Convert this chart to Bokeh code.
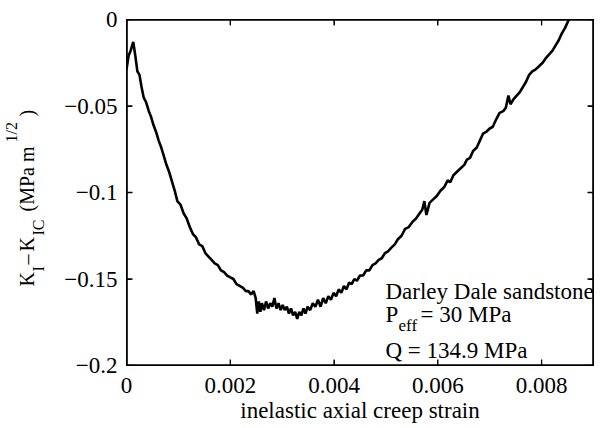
import math
from bokeh.plotting import figure
from bokeh.models import Range1d, LinearAxis, FixedTicker
from bokeh.layouts import row
from bokeh.core.properties import value
from bokeh.embed import file_html
from bokeh.resources import INLINE

# ---- data ----
strain = [
    0.00000, 0.00004, 0.00008, 0.00013, 0.00017, 0.00021, 0.00025, 0.00029, 0.00033, 0.00038,
    0.00043, 0.00047, 0.00052, 0.00057, 0.00062, 0.00067, 0.00072, 0.00077, 0.00082, 0.00088,
    0.00093, 0.00098, 0.00104, 0.00110, 0.00116, 0.00122, 0.00128, 0.00134, 0.00140, 0.00146,
    0.00152, 0.00158, 0.00164, 0.00170, 0.00176, 0.00182, 0.00188, 0.00194, 0.00200, 0.00206,
    0.00212, 0.00218, 0.00224, 0.00230, 0.00235, 0.00240, 0.00245, 0.00249, 0.00252, 0.00255,
    0.00258, 0.00261, 0.00265, 0.00269, 0.00273, 0.00277, 0.00281, 0.00285, 0.00289, 0.00293,
    0.00297, 0.00301, 0.00305, 0.00309, 0.00313, 0.00317, 0.00321, 0.00325, 0.00329, 0.00333,
    0.00337, 0.00341, 0.00345, 0.00349, 0.00354, 0.00359, 0.00364, 0.00369, 0.00374, 0.00379,
    0.00384, 0.00389, 0.00394, 0.00399, 0.00404, 0.00409, 0.00414, 0.00419, 0.00424, 0.00429,
    0.00434, 0.00439, 0.00444, 0.00450, 0.00456, 0.00462, 0.00468, 0.00474, 0.00480, 0.00486,
    0.00492, 0.00498, 0.00504, 0.00510, 0.00517, 0.00523, 0.00530, 0.00537, 0.00544, 0.00551,
    0.00558, 0.00565, 0.00570, 0.00574, 0.00578, 0.00584, 0.00591, 0.00598, 0.00605, 0.00612,
    0.00619, 0.00624, 0.00630, 0.00637, 0.00644, 0.00651, 0.00656, 0.00662, 0.00668, 0.00675,
    0.00681, 0.00687, 0.00693, 0.00700, 0.00706, 0.00712, 0.00719, 0.00726, 0.00731, 0.00736,
    0.00740, 0.00746, 0.00752, 0.00758, 0.00764, 0.00770, 0.00776, 0.00782, 0.00788, 0.00795,
    0.00802, 0.00809, 0.00815, 0.00821, 0.00827, 0.00833, 0.00839, 0.00845, 0.00851, 0.00857,
]
k_diff = [
    -0.029, -0.021, -0.018, -0.013, -0.021, -0.030, -0.032, -0.039, -0.045, -0.048,
    -0.053, -0.056, -0.061, -0.065, -0.070, -0.074, -0.079, -0.084, -0.088, -0.094,
    -0.099, -0.105, -0.107, -0.112, -0.115, -0.120, -0.124, -0.126, -0.130, -0.131,
    -0.135, -0.137, -0.139, -0.141, -0.142, -0.145, -0.146, -0.148, -0.149, -0.150,
    -0.153, -0.154, -0.155, -0.157, -0.157, -0.159, -0.157, -0.161, -0.170, -0.163,
    -0.169, -0.164, -0.168, -0.163, -0.167, -0.164, -0.166, -0.161, -0.167, -0.164,
    -0.168, -0.165, -0.168, -0.166, -0.170, -0.167, -0.171, -0.169, -0.173, -0.169,
    -0.171, -0.167, -0.170, -0.166, -0.168, -0.164, -0.166, -0.162, -0.166, -0.161,
    -0.164, -0.160, -0.162, -0.158, -0.160, -0.156, -0.158, -0.154, -0.156, -0.152,
    -0.153, -0.150, -0.151, -0.148, -0.148, -0.145, -0.145, -0.142, -0.141, -0.139,
    -0.138, -0.135, -0.134, -0.132, -0.130, -0.127, -0.125, -0.121, -0.120, -0.117,
    -0.115, -0.112, -0.110, -0.105, -0.113, -0.106, -0.104, -0.102, -0.099, -0.097,
    -0.093, -0.094, -0.090, -0.088, -0.086, -0.084, -0.081, -0.080, -0.076, -0.074,
    -0.070, -0.066, -0.065, -0.063, -0.062, -0.058, -0.054, -0.053, -0.051, -0.044,
    -0.049, -0.046, -0.044, -0.042, -0.039, -0.036, -0.032, -0.030, -0.029, -0.027,
    -0.025, -0.022, -0.020, -0.018, -0.015, -0.012, -0.008, -0.005, -0.001, 0.003,
]

x_ticks = [0, 0.002, 0.004, 0.006, 0.008]
x_tick_labels = ["0", "0.002", "0.004", "0.006", "0.008"]
y_ticks = [-0.2, -0.15, -0.1, -0.05, 0]
y_tick_labels = ["\u22120.2", "\u22120.15", "\u22120.1", "\u22120.05", "0"]

x_title = "inelastic axial creep strain"
y_title_parts = ["K", "I", "\u2013", "K", "IC", "(MPa m", "1/2", ")"]
note_parts = ["Darley Dale sandstone", "P", "eff", " = 30 MPa", "Q = 134.9 MPa"]

FONT = "Liberation Serif"
W, H = 601, 428
SIDE = 60                      # width of the strip that carries the y title
L, R, T, B = 126, 8, 19, 63    # frame margins in the whole picture
XMIN, XMAX, YMIN, YMAX = 0.0, 0.009, -0.2, 0.0
FW, FH = W - L - R, H - T - B  # frame size in px
BASE_FIX = 8                   # baseline correction (px)
TICK = 6                       # tick length (px)
NAN = float("nan")

# ---------------- main plot ----------------
p = figure(width=W - SIDE, height=H, output_backend="svg", toolbar_location=None,
           x_range=Range1d(XMIN, XMAX), y_range=Range1d(YMIN, YMAX),
           min_border_left=L - SIDE, min_border_right=R, min_border_top=T, min_border_bottom=B)
p.background_fill_color = "white"
p.border_fill_color = "white"
p.outline_line_color = "black"
p.xgrid.visible = False
p.ygrid.visible = False

p.line(strain, k_diff, line_color="black", line_width=2.6)

# frame box (closed polyline) and inward ticks on all four sides, drawn as guide lines
p.line([XMIN, XMAX, XMAX, XMIN, XMIN], [YMIN, YMIN, YMAX, YMAX, YMIN],
       line_color="black", line_width=2.6)
tx = TICK / FH * (YMAX - YMIN)
ty = TICK / FW * (XMAX - XMIN)
tick_xs, tick_ys = [], []
for t in x_ticks:
    tick_xs += [t, t, NAN, t, t, NAN]
    tick_ys += [YMIN, YMIN + tx, NAN, YMAX, YMAX - tx, NAN]
for t in y_ticks:
    tick_xs += [XMIN, XMIN + ty, NAN, XMAX, XMAX - ty, NAN]
    tick_ys += [t, t, NAN, t, t, NAN]
p.line(tick_xs, tick_ys, line_color="black", line_width=1.3)


def style_axis(ax, ticks, labels, show_labels=True, standoff=9):
    ax.ticker = FixedTicker(ticks=ticks)
    ax.major_label_overrides = {t: (s if show_labels else "") for t, s in zip(ticks, labels)}
    ax.major_tick_in = 5
    ax.major_tick_out = 0
    ax.minor_tick_line_color = None
    ax.axis_line_color = "black"
    ax.major_tick_line_color = "black"
    ax.major_label_text_font = FONT
    ax.major_label_text_color = "black"
    ax.major_label_text_font_size = "23px"
    ax.major_label_standoff = standoff if show_labels else 0


xa = p.xaxis[0]
style_axis(xa, x_ticks, x_tick_labels, True, 12)
xa.axis_label = x_title
xa.axis_label_text_font = FONT
xa.axis_label_text_font_size = "23px"
xa.axis_label_text_font_style = "normal"
xa.axis_label_text_color = "black"
xa.axis_label_standoff = 2

ya = p.yaxis[0]
style_axis(ya, y_ticks, y_tick_labels, True, 9)

top = LinearAxis()
style_axis(top, x_ticks, x_tick_labels, False)
p.add_layout(top, "above")
right = LinearAxis()
style_axis(right, y_ticks, y_tick_labels, False)
p.add_layout(right, "right")


# picture pixel -> data coordinates (for text positions only)
def dx(px):
    return XMIN + (px - L) / FW * (XMAX - XMIN)


def dy(py):
    return YMAX - (py - T) / FH * (YMAX - YMIN)


def note(px, py, text, size):
    p.text(x=[dx(px)], y=[dy(py - BASE_FIX)], text=[text], text_font=value(FONT),
           text_font_size=value(size), text_color="black",
           text_align="left", text_baseline="alphabetic")


note(385, 299, note_parts[0], "23px")
note(385, 322, note_parts[1], "23px")
note(398, 333, note_parts[2], "17px")
note(420, 322, note_parts[3], "23px")
note(385, 358, note_parts[4], "23px")

# ---------------- strip with the y title ----------------
# its frame spans the same rows as the main frame; y is "pixels from picture bottom"
s = figure(width=SIDE, height=H, output_backend="svg", toolbar_location=None,
           x_range=Range1d(0, SIDE), y_range=Range1d(B, H - T),
           x_axis_type=None, y_axis_type=None,
           min_border_left=0, min_border_right=0, min_border_top=T, min_border_bottom=B)
s.outline_line_color = None
s.background_fill_color = "white"
s.border_fill_color = "white"
s.xgrid.visible = False
s.ygrid.visible = False

up = math.pi / 2
RFIX = 7
pieces = [
    (33, 286, y_title_parts[0], "20px"),
    (45, 271, y_title_parts[1], "16px"),
    (33, 264, y_title_parts[2], "20px"),
    (33, 251, y_title_parts[3], "20px"),
    (45, 235, y_title_parts[4], "16px"),
    (33, 211, y_title_parts[5], "20px"),
    (18, 142, y_title_parts[6], "16px"),
    (33, 116, y_title_parts[7], "20px"),
]
for px, py, t, size in pieces:
    s.text(x=[px - RFIX], y=[H - py], text=[t], angle=up, text_font=value(FONT),
           text_font_size=value(size), text_color="black",
           text_align="left", text_baseline="alphabetic")

layout = row(s, p, spacing=0)
open("out.html", "w").write(file_html(layout, INLINE))
